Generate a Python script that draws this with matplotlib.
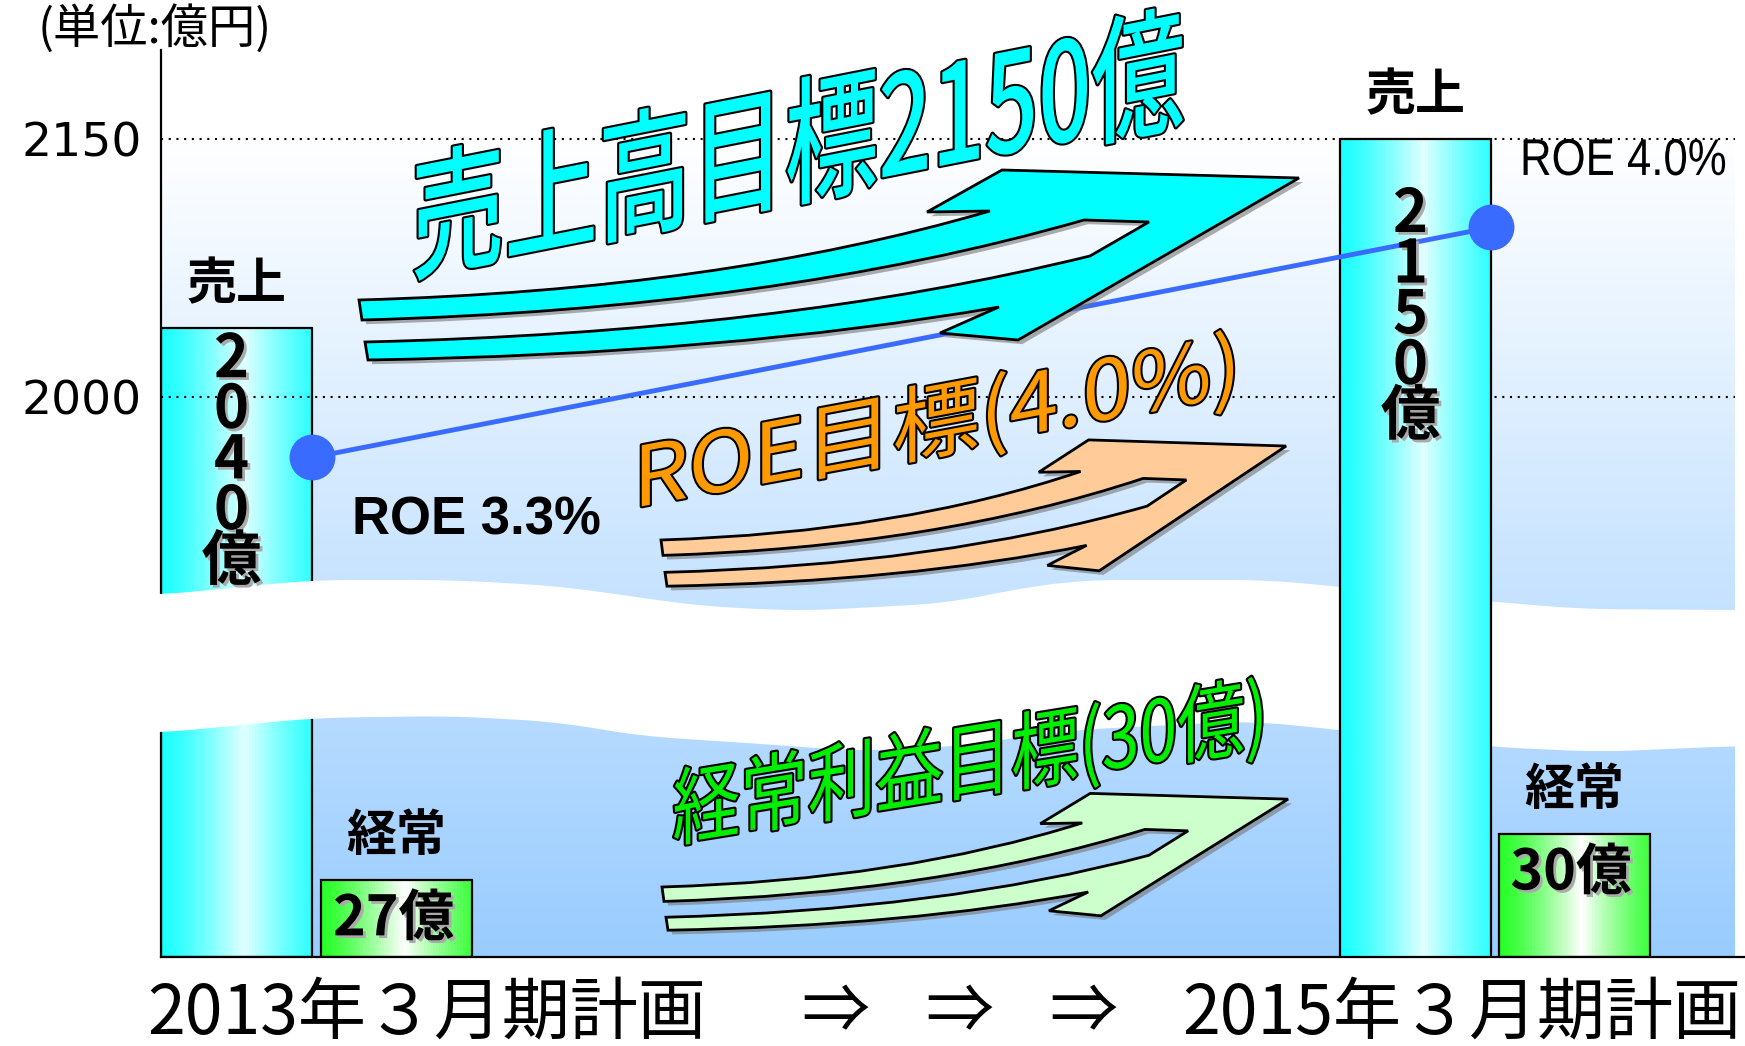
import numpy as np
import matplotlib
matplotlib.use('Agg')
import matplotlib.pyplot as plt
from matplotlib.path import Path
from matplotlib.patches import PathPatch, Polygon
from matplotlib.transforms import Affine2D
from matplotlib import patheffects as pe

plt.rcParams['font.family'] = ['Noto Sans CJK JP', 'DejaVu Sans']

# ---- data (億円 / %) ----
periods = ['2013年３月期計画', '2015年３月期計画']
sales = [2040, 2150]
ordinary = [27, 30]
roe = [3.3, 4.0]
sales_ticks = [2000, 2150]
unit_label = '(単位:億円)'

W, H = 1745, 1046
fig = plt.figure(figsize=(W / 100, H / 100), dpi=100)
# pixel coords (y down) for the decorations
px = Affine2D().scale(1 / W, -1 / H).translate(0, 1) + fig.transFigure

X0, X1, Y0, Y1 = 161, 1745, 957, 50
BASE = 22

# background gradient
bg = fig.add_axes([0, 0, 1, 1], zorder=0)
bg.set_xlim(0, W)
bg.set_ylim(H, 0)
bg.axis('off')
t = np.linspace(0, 1, 256)[:, None, None]
top_c = np.array([1.0, 1.0, 1.0])
bot_c = np.array([153, 204, 255]) / 255
bg.imshow(top_c * (1 - t) + bot_c * t, extent=[X0, 1735, Y0, 139], aspect='auto')

ax = fig.add_axes([X0 / W, 1 - Y0 / H, (X1 - X0) / W, (Y0 - Y1) / H], zorder=1)
ax.set_facecolor('none')

# broken value axis: small 経常 values at the bottom, 売上 on top
brk_v = [BASE, 45, 1950, 2300]
brk_h = [0, 352.6, 474, 1076]
fwd = lambda v: np.interp(np.asarray(v, float), brk_v, brk_h)
inv = lambda h: np.interp(np.asarray(h, float), brk_h, brk_v)
ax.set_yscale('function', functions=(fwd, inv))
ax.set_ylim(BASE, float(inv(Y0 - Y1)))
ax.set_xlim(0, X1 - X0)

big_x = [75.5, 1254.5]
small_x = [235.5, 1413]
bw = 151


def grad_bar(xc, v, c_edge, c_mid, z, n=50):
    edges = np.linspace(xc - bw / 2, xc + bw / 2, n + 1)
    tt = (np.arange(n) + 0.5) / n
    w = np.clip(1 - np.abs(tt - 0.55) / 0.55, 0, 1) ** 1.3
    cols = np.array(c_edge)[None, :] * (1 - w[:, None]) + np.array(c_mid)[None, :] * w[:, None]
    ax.bar(edges[:-1], [v - BASE] * n, width=bw / n + 0.6, bottom=BASE, align='edge',
           color=cols, linewidth=0, zorder=z)
    ax.bar(xc, v - BASE, width=bw, bottom=BASE, fill=False, edgecolor='black',
           lw=1.6, zorder=z + 0.1)


cyan_e, cyan_m = (0.1, 1.0, 1.0), (0.88, 1.0, 1.0)
green_e, green_m = (0.15, 1.0, 0.15), (1.0, 1.0, 1.0)
grad_bar(big_x[0], sales[0], cyan_e, cyan_m, 2)
grad_bar(big_x[1], sales[1], cyan_e, cyan_m, 4)
for xc, v in zip(small_x, ordinary):
    grad_bar(xc, v, green_e, green_m, 2)


# white wave that breaks the axis
def smooth(y, k=41):
    return np.convolve(np.pad(y, k // 2, mode='edge'), np.ones(k) / k, mode='valid')


Ux = [159, 313, 450, 558, 700, 800, 950, 1010, 1080, 1270, 1450, 1580, 1735]
Uy = [595, 580, 580, 586, 606, 611, 603, 590, 580, 580, 598, 609, 610]
Lx = [159, 313, 450, 558, 640, 762, 857, 950, 1074, 1250, 1340, 1493, 1600, 1735]
Ly = [733, 718, 716, 722, 736, 744, 751, 747, 730, 721, 730, 747, 752, 746]
xs = np.arange(159, 1736, 2.0)
up = smooth(np.interp(xs, Ux, Uy))
lo = smooth(np.interp(xs, Lx, Ly))
band = np.vstack([np.c_[xs, up], np.c_[xs[::-1], lo[::-1]]])
ax.add_patch(Polygon(band, closed=True, transform=px, facecolor='white',
                     edgecolor='none', zorder=3, clip_on=False))

# grid
for v in sales_ticks:
    ax.axhline(v, xmax=(1735 - X0) / (X1 - X0), color='black', lw=1.5,
               ls=(0, (1, 2.7)), zorder=3.5)

ax.spines[['top', 'right']].set_visible(False)
for s in ['left', 'bottom']:
    ax.spines[s].set_linewidth(1.6)
ax.set_xticks([])
ax.set_yticks(sales_ticks, labels=[str(v) for v in sales_ticks])
ax.tick_params(axis='y', length=0, pad=14, labelsize=34)
for lb in ax.get_yticklabels():
    lb.set_fontfamily('DejaVu Sans')


class Warp(pe.AbstractPathEffect):
    """stretch glyphs vertically by sy and shear the baseline (slope), about the text centre"""
    def __init__(self, sy, slope, effects):
        super().__init__()
        self.sy, self.slope, self.effects = sy, slope, effects

    def draw_path(self, renderer, gc, tpath, affine, rgbFace=None):
        ext = tpath.get_extents()
        cx = (ext.x0 + ext.x1) / 2
        m = (Affine2D().translate(-cx, 0).scale(1, self.sy)
             .skew(0, np.arctan(self.slope)).translate(cx, 0))
        for e in self.effects:
            e.draw_path(renderer, gc, tpath, m + affine, rgbFace)


def outline(lw=3):
    return [pe.Stroke(linewidth=lw, foreground='black'), pe.Normal()]


# ROE line on its own (hidden) scale
rax = ax.twinx()
rax.set_ylim(1.78, 4.54)
rax.set_axis_off()
roe_x = [big_x[0] + bw / 2, big_x[1] + bw / 2]
ax.plot(roe_x, roe, transform=rax.transData, color='#3A6BFF', lw=3.5,
        marker='o', ms=32, zorder=6, clip_on=False)
ax.annotate(f'ROE {roe[0]:.1f}%', (roe_x[0], roe[0]), xycoords=rax.transData,
            xytext=(40, -63), textcoords='offset pixels', ha='left', va='center',
            fontsize=38, fontweight='bold', fontfamily='Liberation Sans', zorder=8)
ax.annotate(f'ROE {roe[1]:.1f}%', (roe_x[1], roe[1]), xycoords=rax.transData,
            xytext=(29, 64), textcoords='offset pixels', ha='left', va='center',
            fontsize=31.5, fontfamily='Liberation Sans', zorder=8,
            path_effects=[Warp(1.18, 0, [pe.Normal()])])

# double swoosh arrows
base = np.array([(359, 300), (990, 211), (927, 212), (1002, 170), (1299, 178),
                 (1018, 340), (940, 333), (999, 307), (368, 360), (365, 342),
                 (1090, 256), (1149, 222), (1084, 220), (362, 320)], float)


def ctrl(a, b):
    return (a[0] + 0.57 * (b[0] - a[0]), a[1] - 0.11 * (a[1] - b[1]))


def swoosh(ox, oy, sx, sy, color):
    p = np.c_[ox + (base[:, 0] - 359) * sx, oy + (base[:, 1] - 300) * sy]
    P = [tuple(q) for q in p]
    verts = [P[0], ctrl(P[0], P[1]), P[1], P[2], P[3], P[4], P[5], P[6], P[7],
             ctrl(P[8], P[7]), P[8], P[9], ctrl(P[9], P[10]), P[10], P[11], P[12],
             ctrl(P[13], P[12]), P[13], P[0]]
    codes = [Path.MOVETO, Path.CURVE3, Path.CURVE3] + [Path.LINETO] * 6 + \
            [Path.CURVE3, Path.CURVE3, Path.LINETO, Path.CURVE3, Path.CURVE3] + \
            [Path.LINETO] * 2 + [Path.CURVE3, Path.CURVE3, Path.CLOSEPOLY]
    patch = PathPatch(Path(verts, codes), transform=px, facecolor=color,
                      edgecolor='black', lw=2, zorder=7, clip_on=False)
    patch.set_path_effects([pe.SimplePatchShadow(offset=(3, -3), shadow_rgbFace='#777777',
                                                 alpha=0.6), pe.Normal()])
    ax.add_patch(patch)


swoosh(359, 300, 1.0, 1.0, '#00FFFF')
swoosh(661, 540, 0.665, 0.77, '#FFCC99')
swoosh(662, 887, 0.666, 0.72, '#CCFFCC')

# slanted goal texts (anchored at their centre baseline)
ax.text(798, 194, f'売上高目標{sales[1]}億', transform=px, fontsize=67.3, color='#00FFFF',
        fontweight='medium', ha='center', va='baseline', zorder=8, clip_on=False,
        path_effects=[Warp(1.47, 0.198, outline(3))])
ax.text(937, 451, f'ROE目標({roe[1]:.1f}%)', transform=px, fontsize=63, color='#FF9900',
        ha='center', va='baseline', zorder=8, clip_on=False,
        path_effects=[Warp(0.952, 0.187, outline(3))])
ax.text(970, 792, f'経常利益目標({ordinary[1]}億)', transform=px, fontsize=48.8, color='#00EE00',
        ha='center', va='baseline', zorder=8, clip_on=False,
        path_effects=[Warp(1.25, 0.162, outline(3))])

shadow = [pe.SimplePatchShadow(offset=(2, -2), shadow_rgbFace='#aaaaaa', alpha=1), pe.Normal()]

# labels on bars
for xc, v in zip(big_x, sales):
    ax.annotate('売上', (xc, v), xytext=(0, 43), textcoords='offset pixels',
                ha='center', va='center', fontsize=36, fontweight='bold', zorder=8)
for xc, v in zip(small_x, ordinary):
    ax.annotate('経常', (xc, v), xytext=(0, 44), textcoords='offset pixels',
                ha='center', va='center', fontsize=36, fontweight='bold', zorder=8)
    ax.annotate(f'{v}億', (xc, v), xytext=(-3, -39), textcoords='offset pixels',
                ha='center', va='center', fontsize=40, fontweight='bold', zorder=8,
                path_effects=shadow)

# vertical value inside the 売上 bars
starts = [2, 46]
for xc, v, st in zip(big_x, sales, starts):
    ax.annotate('\n'.join(list(str(v)) + ['億']), (xc, v), xytext=(-5, -st),
                textcoords='offset pixels', ha='center', va='top', ma='center',
                linespacing=0.8, fontsize=43, fontweight='bold', zorder=8,
                path_effects=shadow)

# unit and period labels
ax.text(38, 29, unit_label, transform=px, fontsize=34, ha='left', va='center',
        clip_on=False)
for xc, lab in zip([427, 1462], periods):
    ax.text(xc, 1033, lab, transform=px, fontsize=49, ha='center', va='baseline',
            clip_on=False)
for xc in [835, 959, 1083]:
    ax.text(xc, 1033, '⇒', transform=px, fontsize=49, ha='center', va='baseline',
            clip_on=False)

fig.savefig('out.png', dpi=100)
